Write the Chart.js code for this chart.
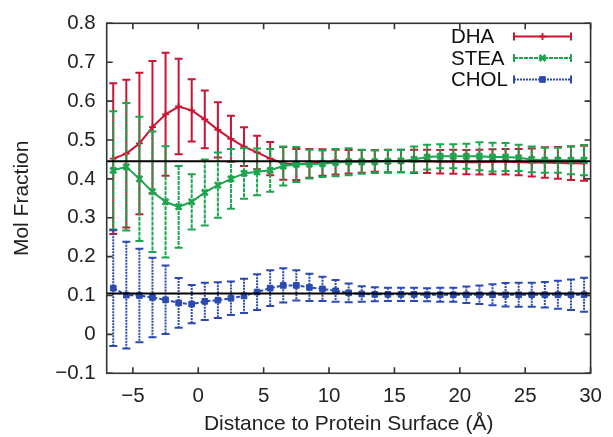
<!DOCTYPE html>
<html><head><meta charset="utf-8">
<script src="https://cdn.jsdelivr.net/npm/chart.js@4.4.0/dist/chart.umd.min.js"></script>
<style>html,body{margin:0;padding:0;background:#fff}#wrap{width:613px;height:437px;position:relative}</style>
</head><body><div id="wrap"><canvas id="c" width="613" height="437"></canvas></div>
<script>
// ---- data ----
const distances = [-6.5,-5.5,-4.5,-3.5,-2.5,-1.5,-0.5,0.5,1.5,2.5,3.5,4.5,5.5,6.5,7.5,8.5,9.5,10.5,11.5,12.5,13.5,14.5,15.5,16.5,17.5,18.5,19.5,20.5,21.5,22.5,23.5,24.5,25.5,26.5,27.5,28.5,29.5];
const dhaMean = [0.452,0.465,0.491,0.533,0.566,0.586,0.576,0.553,0.526,0.503,0.483,0.468,0.452,0.440,0.437,0.440,0.442,0.443,0.444,0.445,0.446,0.446,0.446,0.445,0.445,0.444,0.444,0.443,0.443,0.444,0.444,0.443,0.442,0.442,0.441,0.440,0.440];
const dhaErr  = [0.194,0.190,0.182,0.170,0.158,0.123,0.080,0.074,0.071,0.059,0.050,0.043,0.043,0.042,0.040,0.037,0.034,0.032,0.030,0.029,0.028,0.029,0.029,0.030,0.030,0.030,0.031,0.031,0.032,0.032,0.033,0.034,0.036,0.039,0.041,0.043,0.045];
const steaMean = [0.422,0.431,0.400,0.367,0.341,0.328,0.341,0.365,0.384,0.400,0.414,0.418,0.422,0.433,0.437,0.438,0.439,0.442,0.444,0.444,0.444,0.445,0.446,0.450,0.456,0.458,0.458,0.458,0.458,0.456,0.456,0.454,0.450,0.448,0.448,0.448,0.448];
const steaErr  = [0.152,0.164,0.160,0.155,0.143,0.105,0.071,0.085,0.084,0.077,0.065,0.060,0.055,0.050,0.045,0.037,0.034,0.035,0.035,0.031,0.029,0.029,0.029,0.033,0.032,0.031,0.031,0.032,0.036,0.037,0.036,0.034,0.033,0.032,0.032,0.036,0.039];
const cholMean = [0.119,0.101,0.100,0.095,0.089,0.081,0.078,0.085,0.088,0.093,0.099,0.109,0.119,0.126,0.126,0.121,0.117,0.112,0.107,0.104,0.103,0.103,0.103,0.103,0.102,0.102,0.102,0.102,0.102,0.102,0.102,0.102,0.102,0.102,0.102,0.102,0.102];
const cholErr  = [0.149,0.137,0.120,0.102,0.088,0.064,0.049,0.048,0.046,0.043,0.044,0.046,0.046,0.044,0.039,0.035,0.031,0.028,0.024,0.020,0.018,0.017,0.017,0.017,0.017,0.018,0.018,0.021,0.024,0.027,0.030,0.031,0.031,0.033,0.036,0.039,0.044];
const refLevels = [0.445, 0.105];
const seriesNames = ['DHA','STEA','CHOL'];
const xTickValues = [-5,0,5,10,15,20,25,30];
const xTickLabels = ['\u22125','0','5','10','15','20','25','30'];
const yTickValues = [-0.1,0,0.1,0.2,0.3,0.4,0.5,0.6,0.7,0.8];
const yTickLabels = ['\u22120.1','0','0.1','0.2','0.3','0.4','0.5','0.6','0.7','0.8'];
const xRange = [-7, 30];
const yRange = [-0.1, 0.8];

// ---- styles ----
const RED = 'rgb(200,22,52)', GREEN = 'rgb(28,165,78)', BLUE = 'rgb(42,74,178)';
const FONT = 'Liberation Sans, Arial, Helvetica, sans-serif';

function pts(ys){ return distances.map((x,i)=>({x:x, y:ys[i]})); }

const errorBars = {
  id:'errorBars',
  beforeDatasetDraw(chart, args){
    const ds = chart.data.datasets[args.index];
    if(!ds.errors) return;
    const ctx = chart.ctx, xs = chart.scales.x, ys = chart.scales.y, a = chart.chartArea;
    ctx.save();
    ctx.beginPath(); ctx.rect(a.left, a.top, a.right-a.left, a.bottom-a.top); ctx.clip();
    ctx.strokeStyle = ds.borderColor; ctx.lineWidth = 2;
    ds.data.forEach((p,i)=>{
      const e = ds.errors[i];
      const px = xs.getPixelForValue(p.x);
      const y1 = ys.getPixelForValue(p.y+e), y2 = ys.getPixelForValue(p.y-e);
      ctx.setLineDash(ds.errDash);
      ctx.beginPath(); ctx.moveTo(px,y1); ctx.lineTo(px,y2); ctx.stroke();
      ctx.setLineDash([]);
      ctx.beginPath();
      ctx.moveTo(px-4,y1); ctx.lineTo(px+4,y1);
      ctx.moveTo(px-4,y2); ctx.lineTo(px+4,y2);
      ctx.stroke();
    });
    ctx.restore();
  }
};

const frame = {
  id:'frame',
  afterDatasetsDraw(chart){
    const ctx = chart.ctx, a = chart.chartArea, xs = chart.scales.x, ys = chart.scales.y;
    ctx.save();
    ctx.strokeStyle = '#333'; ctx.lineWidth = 1.6; ctx.setLineDash([]);
    ctx.strokeRect(a.left, a.top, a.right-a.left, a.bottom-a.top);
    ctx.beginPath();
    const L = 6;
    xTickValues.forEach(v=>{
      const px = xs.getPixelForValue(v);
      ctx.moveTo(px, a.bottom); ctx.lineTo(px, a.bottom-L);
      ctx.moveTo(px, a.top); ctx.lineTo(px, a.top+L);
    });
    yTickValues.forEach(v=>{
      const py = ys.getPixelForValue(v);
      ctx.moveTo(a.left, py); ctx.lineTo(a.left+L, py);
      ctx.moveTo(a.right, py); ctx.lineTo(a.right-L, py);
    });
    ctx.stroke();
    ctx.restore();
  }
};

const keyBox = {
  id:'keyBox',
  afterDraw(chart){
    const ctx = chart.ctx;
    const rows = [36.5, 58, 79.5];
    ctx.save();
    ctx.font = '20.5px ' + FONT;
    ctx.textAlign = 'left'; ctx.textBaseline = 'middle';
    for(let i=0;i<3;i++){
      const ds = chart.data.datasets[i];
      const y = rows[i];
      ctx.fillStyle = '#111';
      ctx.fillText(seriesNames[i], 451, y+1);
      const x1 = 514, x2 = 571, xm = (x1+x2)/2;
      ctx.strokeStyle = ds.borderColor; ctx.lineWidth = 2;
      ctx.setLineDash(ds.errDash);
      ctx.beginPath(); ctx.moveTo(x1,y); ctx.lineTo(x2,y); ctx.stroke();
      ctx.setLineDash([]);
      ctx.beginPath(); ctx.moveTo(x1,y-4); ctx.lineTo(x1,y+4); ctx.moveTo(x2,y-4); ctx.lineTo(x2,y+4); ctx.stroke();
      ctx.fillStyle = ds.borderColor;
      ctx.lineWidth = ds.pointBorderWidth;
      Chart.helpers.drawPoint(ctx, {pointStyle: ds.pointStyle, radius: ds.pointRadius, rotation:0, borderWidth: ds.pointBorderWidth}, xm, y);
    }
    ctx.restore();
  }
};

const datasets = [
  {label: seriesNames[0], data: pts(dhaMean), errors: dhaErr, errDash: [],
   borderColor: RED, backgroundColor: RED, borderWidth: 2, pointStyle: 'cross', pointRadius: 3.5, pointBorderWidth: 1.8, order: 5},
  {label: seriesNames[1], data: pts(steaMean), errors: steaErr, errDash: [4,1],
   borderColor: GREEN, backgroundColor: GREEN, borderWidth: 2, pointStyle: 'crossRot', pointRadius: 4.2, pointBorderWidth: 2.6, order: 4},
  {label: seriesNames[2], data: pts(cholMean), errors: cholErr, errDash: [2,1], borderDash: [4,2],
   borderColor: BLUE, backgroundColor: BLUE, borderWidth: 2, pointStyle: 'rect', pointRadius: 4, pointBorderWidth: 1, order: 3},
  {label: 'ref1', data: [{x:xRange[0], y:refLevels[0]},{x:xRange[1], y:refLevels[0]}],
   borderColor: '#000', borderWidth: 2, pointRadius: 0, order: 1},
  {label: 'ref2', data: [{x:xRange[0], y:refLevels[1]},{x:xRange[1], y:refLevels[1]}],
   borderColor: '#000', borderWidth: 2, pointRadius: 0, order: 1}
];

new Chart(document.getElementById('c'), {
  type: 'line',
  data: { datasets: datasets },
  options: {
    responsive: false, animation: false, devicePixelRatio: 1,
    layout: { padding: { top: 20, right: 16.5, left: 0, bottom: 0 } },
    elements: { line: { tension: 0 } },
    plugins: { legend: { display: false }, tooltip: { enabled: false } },
    scales: {
      x: {
        type: 'linear', min: xRange[0], max: xRange[1],
        afterBuildTicks(s){ s.ticks = xTickValues.map(v=>({value:v})); },
        afterFit(s){ s.height = 63.7; },
        grid: { display: false, drawTicks: false },
        border: { display: false },
        ticks: { padding: 11, color: '#222', font: { family: FONT, size: 20.5 }, maxRotation: 0, autoSkip: false,
          callback(v){ const i = xTickValues.indexOf(v); return i>=0 ? xTickLabels[i] : ''; } },
        title: { display: true, text: 'Distance to Protein Surface (\u00c5)', color: '#222', font: { family: FONT, size: 21 }, padding: { top: 0, bottom: 0 } }
      },
      y: {
        type: 'linear', min: yRange[0], max: yRange[1],
        afterBuildTicks(s){ s.ticks = yTickValues.map(v=>({value:v})); },
        afterFit(s){ s.width = 106.7; },
        grid: { display: false, drawTicks: false },
        border: { display: false },
        ticks: { padding: 11, color: '#222', font: { family: FONT, size: 20.5 }, autoSkip: false,
          callback(v){ const i = yTickValues.findIndex(t=>Math.abs(t-v)<1e-9); return i>=0 ? yTickLabels[i] : ''; } },
        title: { display: true, text: 'Mol Fraction', color: '#222', font: { family: FONT, size: 21 }, padding: { top: 10, bottom: 0 } }
      }
    }
  },
  plugins: [errorBars, frame, keyBox]
});
</script></body></html>
